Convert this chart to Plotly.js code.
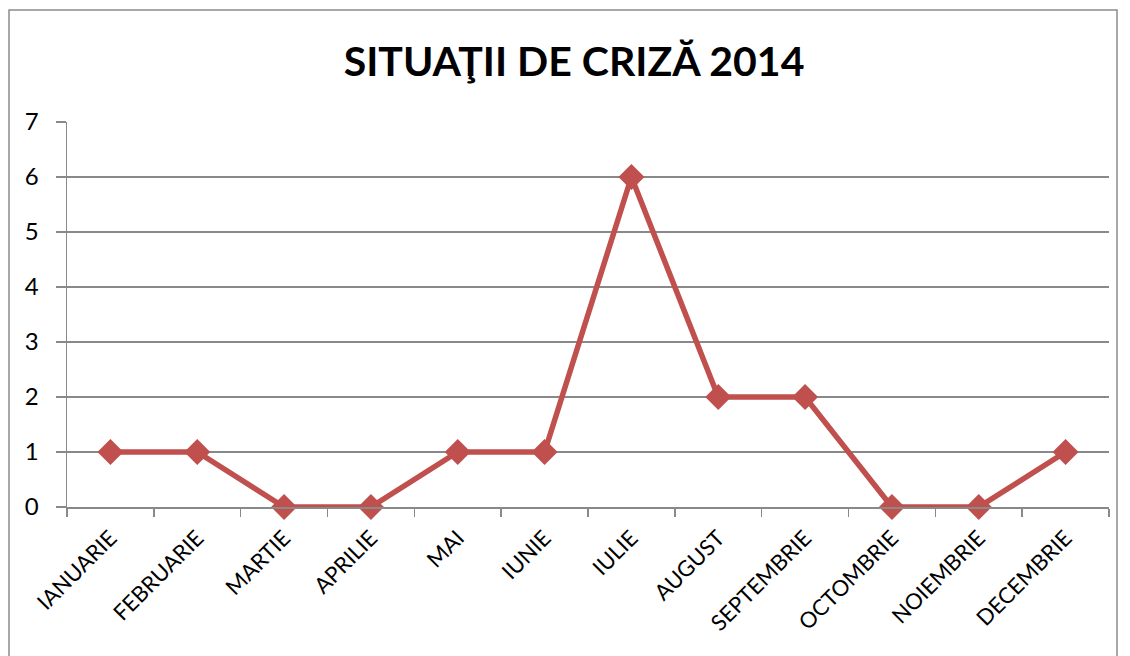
<!DOCTYPE html>
<html>
<head>
<meta charset="utf-8">
<script src="https://cdn.plot.ly/plotly-3.0.1.min.js"></script>
<style>html,body{margin:0;padding:0;background:#fff;}#chart{width:1130px;height:656px;}</style>
</head>
<body>
<div id="chart"></div>
<script>
const months = ["IANUARIE","FEBRUARIE","MARTIE","APRILIE","MAI","IUNIE","IULIE","AUGUST","SEPTEMBRIE","OCTOMBRIE","NOIEMBRIE","DECEMBRIE"];
const situatii = [1,1,0,0,1,1,6,2,2,0,0,1];
const titleText = "SITUAŢII DE CRIZĂ 2014";

const L = 67, R = 1109, T = 122, B = 507, W = 1130, H = 656;
const pw = R - L, ph = B - T;
const gray = "#898989";

const trace = {
  x: months, y: situatii, type: "scatter", mode: "lines+markers",
  line: {color: "#C0504D", width: 5.5},
  marker: {symbol: "diamond", size: 20, color: "#C0504D"},
  cliponaxis: false,
  hoverinfo: "x+y"
};

const layout = {
  width: W, height: H,
  margin: {l: L, r: W - R, t: T, b: H - B, pad: 0},
  paper_bgcolor: "#fff", plot_bgcolor: "#fff",
  showlegend: false,
  font: {family: "Lato, 'Open Sans', sans-serif", color: "#000"},
  title: {text: "<b>" + titleText + "</b>", font: {family: "Lato, 'Open Sans', sans-serif", size: 41, color: "#000"},
          x: 0.508, xanchor: "center", y: 1 - 62/H, yanchor: "middle", yref: "container"},
  xaxis: {
    type: "category", range: [-0.5, months.length - 0.5], autorange: false,
    showgrid: false, showline: true, linecolor: gray, linewidth: 1.5,
    ticks: "outside", tickson: "boundaries", ticklen: 8, tickcolor: gray, tickwidth: 1.5,
    tickangle: -45, tickfont: {size: 22}, ticklabelstandoff: 8,
    zeroline: false, fixedrange: true, automargin: false
  },
  yaxis: {
    range: [0, 7], autorange: false, dtick: 1, showgrid: true, gridcolor: gray, gridwidth: 1.5,
    showline: true, linecolor: gray, linewidth: 1.5, zeroline: false,
    ticks: "outside", ticklen: 10, tickcolor: gray, tickwidth: 1.5,
    tickfont: {size: 24}, ticklabelstandoff: 12, fixedrange: true, automargin: false
  },
  shapes: [{
    type: "rect", xref: "paper", yref: "paper",
    x0: (9 - L)/pw, x1: (1117 - L)/pw, y0: (B - 700)/ph, y1: (B - 10)/ph,
    line: {color: "#8c8c8c", width: 1.5}, fillcolor: "rgba(0,0,0,0)", layer: "below"
  }]
};

Plotly.newPlot("chart", [trace], layout, {displayModeBar: false, staticPlot: true});
</script>
</body>
</html>
